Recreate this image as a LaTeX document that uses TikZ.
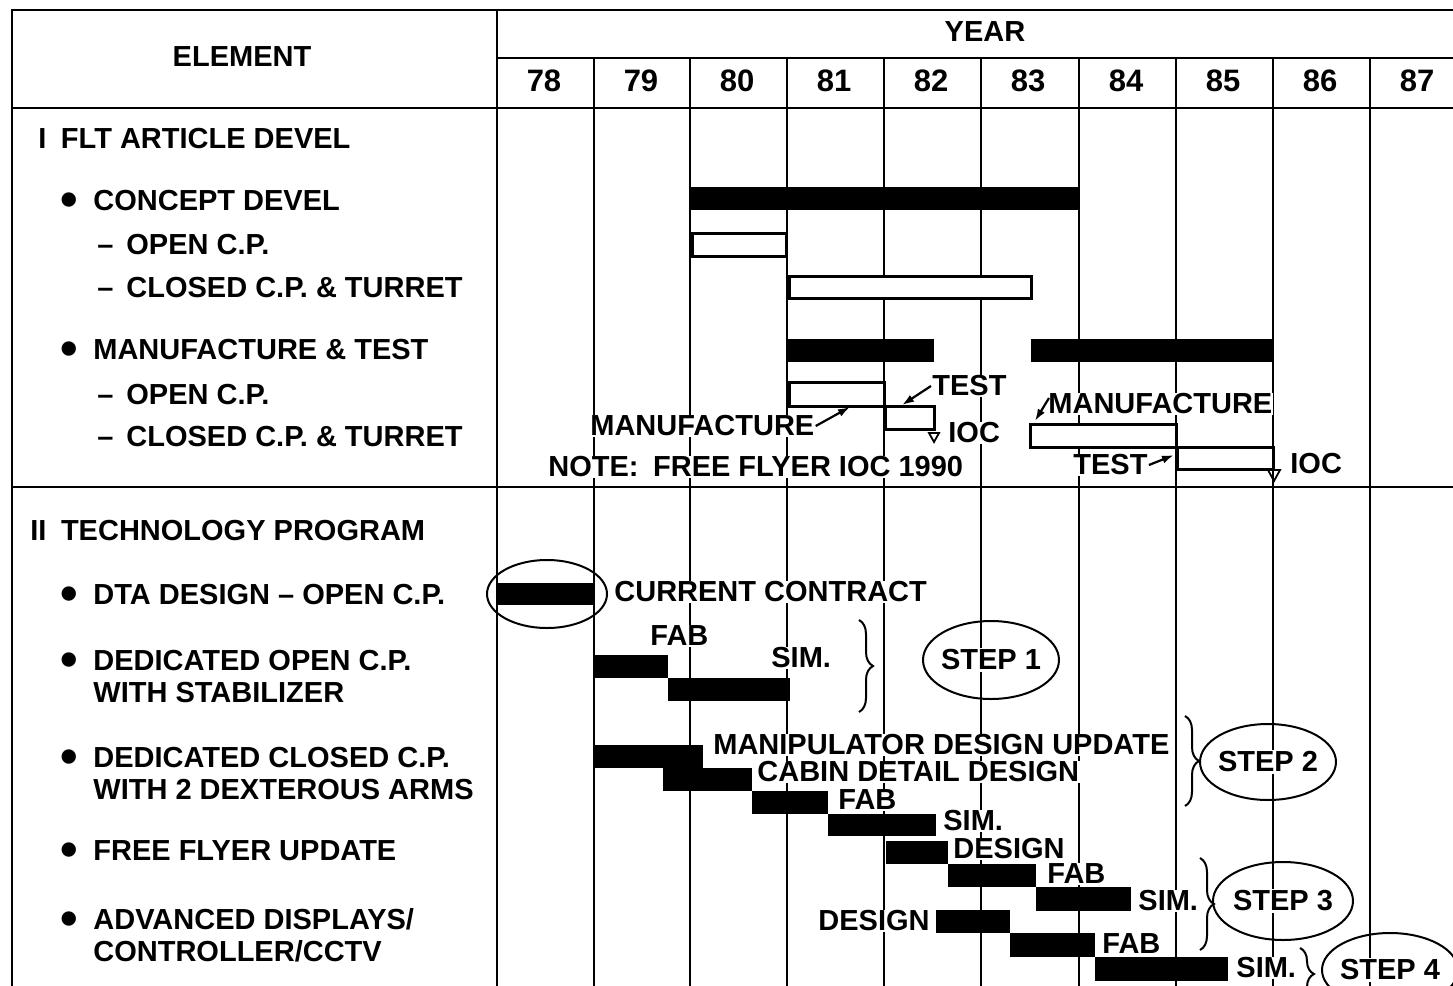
\documentclass[tikz,border=0pt]{standalone}
\usepackage{fontspec}
\setmainfont{Liberation Sans}
\usetikzlibrary{arrows.meta,decorations.pathreplacing}

\newcommand{\bul}{\llap{\raisebox{-3pt}{\fontsize{25}{25}\selectfont\textbullet}\hspace{7.5pt}}}
\newcommand{\dsh}{\llap{--\hspace{6.5pt}}}

\begin{document}
\begin{tikzpicture}[x=0.5pt,y=-0.5pt,
	txt/.style={font=\fontsize{14.5}{16}\selectfont\bfseries},
	lbl/.style={txt, inner sep=0.5pt, fill=white, anchor=west, align=left},
	head/.style={txt, inner sep=1pt},
	yr/.style={font=\fontsize{15.5}{16}\selectfont\bfseries, inner sep=1pt},
	grid/.style={line width=1pt},
	solidbar/.style={fill=black},
	openbar/.style={draw, line width=1.5pt, fill=white},
	ptr/.style={-{Latex[length=6pt,width=4pt]}, line width=1.1pt},
	oval/.style={line width=1pt},
	brace/.style={decorate, decoration={brace, amplitude=7pt}, line width=1pt}]
	
	\useasboundingbox (0,0) rectangle (1453,986);
	
	% Marco
	\draw[grid] (1453,10) -- (12,10) -- (12,986);
	\draw[grid] (497,10) -- (497,986);
	\draw[grid] (497,58) -- (1453,58);
	\draw[grid] (12,108) -- (1453,108);
	\draw[grid] (12,487) -- (1453,487);
	
	% Encabezados
	\node[head] (elem) at (242,57) {ELEMENT};
	\node[head] (year) at (985,32) {YEAR};
	\foreach \x/\yr in {497/78,594/79,690/80,787/81,884/82,981/83,1079/84,1176/85,1273/86,1370/87} {
		\draw[grid] (\x,58) -- (\x,986);
		\node[yr] (y\yr) at ({\x+47},81) {\yr};
	}
	
	% Elementos
	\node[lbl] (secI) at (37,139) {I\enspace FLT ARTICLE DEVEL};
	\node[lbl] (conc) at (92,203) {\bul CONCEPT DEVEL};
	\node[lbl] (concOpen) at (125,245) {\dsh OPEN C.P.};
	\node[lbl] (concClosed) at (125,288) {\dsh CLOSED C.P. \& TURRET};
	\node[lbl] (mfg) at (92,352) {\bul MANUFACTURE \& TEST};
	\node[lbl] (mfgOpen) at (125,395) {\dsh OPEN C.P.};
	\node[lbl] (mfgClosed) at (125,437) {\dsh CLOSED C.P. \& TURRET};
	\node[lbl] (secII) at (29,531) {II\enspace TECHNOLOGY PROGRAM};
	\node[lbl] (dta) at (92,597) {\bul DTA DESIGN -- OPEN C.P.};
	\node[lbl] (docp) at (92,677) {\bul DEDICATED OPEN C.P.\\WITH STABILIZER};
	\node[lbl] (dccp) at (92,774) {\bul DEDICATED CLOSED C.P.\\WITH 2 DEXTEROUS ARMS};
	\node[lbl] (ffu) at (92,854) {\bul FREE FLYER UPDATE};
	\node[lbl] (adv) at (92,935) {\bul ADVANCED DISPLAYS/\\CONTROLLER/CCTV};
	
	% Etiquetas seccion I
	\node[lbl] (testA) at (931,386) {TEST};
	\node[lbl] (manA) at (589,426) {MANUFACTURE};
	\node[lbl] (iocA) at (947,433) {IOC};
	\node[lbl] (note) at (547,467) {NOTE:\enspace FREE FLYER IOC 1990};
	\node[lbl] (manB) at (1047,404) {MANUFACTURE};
	\node[lbl] (testB) at (1072,465) {TEST};
	\node[lbl] (iocB) at (1289,464) {IOC};
	
	% Etiquetas seccion II
	\node[lbl] (cur) at (613,592) {CURRENT CONTRACT};
	\node[lbl] (fabA) at (649,636) {FAB};
	\node[lbl] (simA) at (770,658) {SIM.};
	\node[lbl] (manip) at (712,745) {MANIPULATOR DESIGN UPDATE};
	\node[lbl] (cabin) at (756,772) {CABIN DETAIL DESIGN};
	\node[lbl] (fabB) at (837,800) {FAB};
	\node[lbl] (simB) at (942,821) {SIM.};
	\node[lbl] (desC) at (952,849) {DESIGN};
	\node[lbl] (fabC) at (1046,874) {FAB};
	\node[lbl] (simC) at (1137,901) {SIM.};
	\node[lbl, anchor=east] (desD) at (931,921) {DESIGN};
	\node[lbl] (fabD) at (1101,944) {FAB};
	\node[lbl] (simD) at (1235,968) {SIM.};
	
	% Barras seccion I
	\fill[solidbar] (690,187) rectangle (1079,210);
	\draw[openbar] (692,233) rectangle (786,256);
	\draw[openbar] (789,276) rectangle (1031,298);
	\fill[solidbar] (787,339) rectangle (934,362);
	\fill[solidbar] (1031,339) rectangle (1273,362);
	\draw[openbar] (789,382) rectangle (884,406);
	\draw[openbar] (885,406) rectangle (934,429);
	\draw[openbar] (1030,424) rectangle (1176,447);
	\draw[openbar] (1177,447) rectangle (1273,469);
	
	% IOC
	\draw[line width=0.9pt] (929,433) -- (939,433) -- (934,442) -- cycle;
	\draw[line width=0.9pt] (1268,470) -- (1280,470) -- (1274,481) -- cycle;
	
	% Flechas
	\coordinate (manAtip) at (850,407);
	\coordinate (testAtip) at (902,405);
	\coordinate (manBtip) at (1035,421);
	\coordinate (testBtip) at (1174,455);
	\draw[ptr] (manA.east) -- (manAtip);
	\draw[ptr] (testA.west) -- (testAtip);
	\draw[ptr] ([xshift=1pt,yshift=3pt]manB.west) -- (manBtip);
	\draw[ptr] (testB.east) -- (testBtip);
	
	% Barras seccion II
	\fill[solidbar] (497,583) rectangle (594,605);
	\fill[solidbar] (594,655) rectangle (668,678);
	\fill[solidbar] (668,678) rectangle (790,701);
	\fill[solidbar] (594,745) rectangle (703,768);
	\fill[solidbar] (663,768) rectangle (752,791);
	\fill[solidbar] (752,791) rectangle (828,814);
	\fill[solidbar] (828,814) rectangle (936,836);
	\fill[solidbar] (886,841) rectangle (948,864);
	\fill[solidbar] (948,864) rectangle (1036,887);
	\fill[solidbar] (1036,887) rectangle (1131,911);
	\fill[solidbar] (936,910) rectangle (1010,933);
	\fill[solidbar] (1010,933) rectangle (1095,957);
	\fill[solidbar] (1095,957) rectangle (1228,981);
	
	% Contrato actual
	\coordinate (ccc) at (547,594);
	\draw[oval] (ccc) ellipse [x radius=60, y radius=34];
	
	% Llaves
	\draw[brace] (859,620) -- (859,712);
	\draw[brace] (1185,716) -- (1185,806);
	\draw[brace] (1200,858) -- (1200,950);
	\draw[brace] (1300,948) -- (1300,1000);
	
	% Pasos
	\node[head, fill=white] (step1) at (991,660) {STEP 1};
	\node[head, fill=white] (step2) at (1268,762) {STEP 2};
	\node[head, fill=white] (step3) at (1283,901) {STEP 3};
	\node[head, fill=white] (step4) at (1390,970) {STEP 4};
	\draw[oval] (step1.center) ellipse [x radius=68, y radius=39];
	\draw[oval] (step2.center) ellipse [x radius=68, y radius=38];
	\draw[oval] (step3.center) ellipse [x radius=70, y radius=39];
	\draw[oval] (step4.center) ellipse [x radius=68, y radius=37];
	
\end{tikzpicture}
\end{document}
